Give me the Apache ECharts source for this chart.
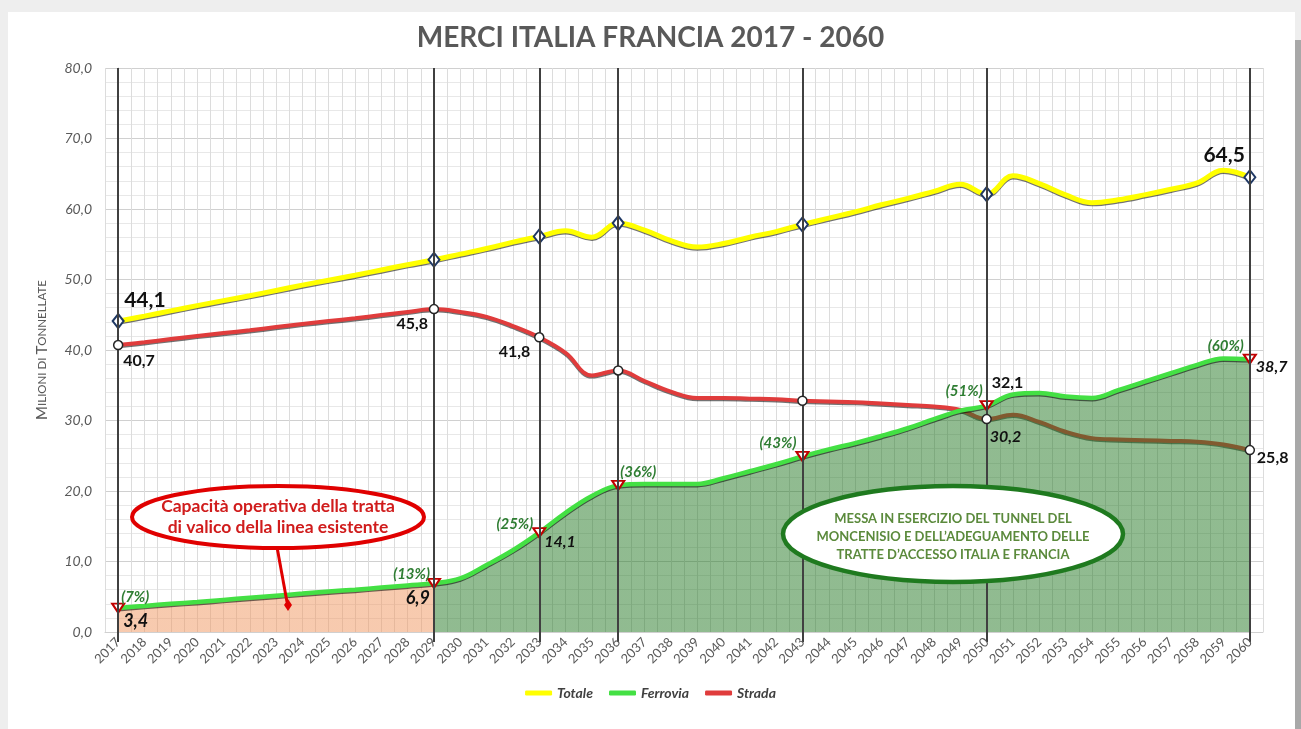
<!DOCTYPE html>
<html>
<head>
<meta charset="utf-8">
<style>
  html, body { margin: 0; padding: 0; }
  #chart { width: 1301px; height: 729px; }
</style>
<script src="https://cdn.jsdelivr.net/npm/echarts@6/dist/echarts.min.js"></script>
</head>
<body>
<div id="chart"></div>
<script>
// anni sull'asse x
const years = ['2017', '2018', '2019', '2020', '2021', '2022', '2023', '2024', '2025', '2026', '2027',
  '2028', '2029', '2030', '2031', '2032', '2033', '2034', '2035', '2036', '2037', '2038', '2039', '2040',
  '2041', '2042', '2043', '2044', '2045', '2046', '2047', '2048', '2049', '2050', '2051', '2052', '2053',
  '2054', '2055', '2056', '2057', '2058', '2059', '2060'];

// milioni di tonnellate
const totale = [44.1, 44.8, 45.55, 46.3, 47.0, 47.7, 48.45, 49.2, 49.9, 50.6, 51.35, 52.1, 52.8,
  53.6, 54.4, 55.3, 56.1, 56.9, 56.0, 58.0, 57.0, 55.5, 54.6, 55.1, 56.0, 56.8, 57.8,
  58.7, 59.6, 60.6, 61.5, 62.5, 63.5, 62.1, 64.7, 63.6, 62.0, 60.9, 61.3, 62.0, 62.8, 63.7, 65.5, 64.5];
const ferrovia = [3.4, 3.7, 4.0, 4.25, 4.55, 4.85, 5.15, 5.45, 5.75, 6.0, 6.3, 6.6, 6.9,
  7.6, 9.5, 11.6, 14.1, 16.9, 19.3, 20.8, 21.0, 21.0, 21.0, 21.8, 22.8, 23.8, 24.9,
  25.9, 26.8, 27.8, 28.9, 30.2, 31.4, 32.1, 33.7, 33.9, 33.4, 33.2, 34.3, 35.5, 36.7, 37.9, 38.8, 38.7];
const strada = [40.7, 41.1, 41.55, 42.0, 42.4, 42.8, 43.25, 43.7, 44.1, 44.5, 44.95, 45.4, 45.8,
  45.4, 44.7, 43.4, 41.8, 39.6, 36.4, 37.1, 35.6, 34.1, 33.2, 33.2, 33.1, 33.0, 32.8,
  32.7, 32.6, 32.4, 32.2, 32.0, 31.5, 30.2, 30.8, 29.8, 28.4, 27.5, 27.3, 27.2, 27.1, 27.0, 26.6, 25.8];

// anni chiave con linea verticale e quota ferroviaria
const keyYears = ['2017', '2029', '2033', '2036', '2043', '2050', '2060'];
const quote = ['(7%)', '(13%)', '(25%)', '(36%)', '(43%)', '(51%)', '(60%)'];
const yTicks = [0, 10, 20, 30, 40, 50, 60, 70, 80];

const keyIdx = keyYears.map(y => years.indexOf(y));
const fmt = v => v.toFixed(1).replace('.', ',');
const FONT = 'Lato, "Open Sans", sans-serif';

// posizione delle etichette (solo stile)
function lab(align, vAlign, dx, dy, extra) {
  return Object.assign({
    show: true, position: 'inside', align: align, verticalAlign: vAlign,
    offset: [dx, dy], fontFamily: FONT, fontWeight: 'bold', fontSize: 16, color: '#111'
  }, extra || {});
}
const it = { fontStyle: 'italic' };
const big = { fontSize: 21 };
const pctStyle = { fontStyle: 'italic', fontSize: 15, color: '#2E7D32' };

const totaleLab = { '2017': lab('left', 'bottom', 6, -10, big), '2060': lab('right', 'bottom', -5, -12, big) };
const stradaLab = {
  '2017': lab('left', 'top', 5, 8), '2029': lab('right', 'top', -6, 7), '2033': lab('right', 'top', -9, 7),
  '2050': lab('left', 'top', 3, 10, it), '2060': lab('left', 'top', 7, 0)
};
const ferroviaLab = {
  '2017': lab('left', 'top', 5, 4, { fontStyle: 'italic', fontSize: 18 }), '2029': lab('right', 'top', -4, 6, { fontStyle: 'italic', fontSize: 18 }),
  '2033': lab('left', 'top', 5, 1, it), '2050': lab('left', 'bottom', 5, -15),
  '2060': lab('left', 'top', 6, 0, it)
};
const pctLab = {
  '2017': lab('left', 'bottom', 3, -3, pctStyle), '2029': lab('right', 'bottom', -4, -2, pctStyle),
  '2033': lab('right', 'bottom', -6, -1, pctStyle), '2036': lab('left', 'bottom', 2, -6, pctStyle),
  '2043': lab('right', 'bottom', -6, -6, pctStyle), '2050': lab('right', 'bottom', -4, -7, pctStyle),
  '2060': lab('right', 'bottom', -6, -6, pctStyle)
};

function withLabels(values, labels) {
  return values.map((v, i) => labels[years[i]] ? { value: v, label: labels[years[i]] } : v);
}
function onlyKeys(values, labels) {
  return values.map((v, i) => {
    if (!keyIdx.includes(i)) return null;
    return labels && labels[years[i]] ? { value: v, label: labels[years[i]] } : v;
  });
}
const keySymbol = name => (v, p) => keyIdx.includes(p.dataIndex) ? name : 'none';
const shadow = { shadowColor: 'rgba(0,0,0,0.55)', shadowBlur: 0, shadowOffsetX: 0, shadowOffsetY: 1.2 };

const split = keyIdx[1] / (years.length - 1);
const orange = 'rgba(240,150,95,0.5)';
const green = 'rgba(35,120,35,0.5)';

const chart = echarts.init(document.getElementById('chart'));
chart.setOption({
  animation: false,
  title: {
    text: 'MERCI ITALIA FRANCIA 2017 - 2060', left: 'center', top: 19,
    textStyle: { fontFamily: FONT, fontWeight: 'bold', fontSize: 28, color: '#595959' }
  },
  legend: {
    bottom: 24, left: 'center', itemGap: 16, itemWidth: 27, itemHeight: 5,
    textStyle: { fontFamily: FONT, fontStyle: 'italic', fontWeight: 'bold', fontSize: 14, color: '#404040' },
    data: [
      { name: 'Totale', icon: 'roundRect', itemStyle: { color: '#FFFF00', borderWidth: 0 } },
      { name: 'Ferrovia', icon: 'roundRect', itemStyle: { color: '#44E044', borderWidth: 0 } },
      { name: 'Strada', icon: 'roundRect', itemStyle: { color: '#E03C3C', borderWidth: 0 } }
    ]
  },
  grid: { left: 105, right: 38, top: 68, bottom: 97 },
  xAxis: [
    {
      type: 'category', data: years, boundaryGap: true,
      axisLine: { lineStyle: { color: '#d0d0d0' } },
      axisTick: {
        show: true, alignWithLabel: true, length: 10,
        interval: i => keyIdx.includes(i),
        lineStyle: { color: '#404040', width: 2 }
      },
      axisLabel: { interval: 0, rotate: 45, margin: 8, fontFamily: FONT, fontSize: 13, color: '#595959' },
      splitLine: { show: false }
    },
    {
      // griglia verticale fine (mezza banda)
      type: 'value', min: -0.5, max: years.length - 0.5, interval: 0.5, position: 'bottom',
      axisLine: { show: false }, axisTick: { show: false }, axisLabel: { show: false },
      splitLine: { show: true, lineStyle: { color: '#dcdcdc', width: 1 } }
    }
  ],
  yAxis: {
    type: 'value', min: yTicks[0], max: yTicks[yTicks.length - 1], interval: 10,
    name: '{a|M}{b|ILIONI DI }{a|T}{b|ONNELLATE}', nameLocation: 'middle', nameRotate: 90, nameGap: 55,
    nameTextStyle: {
      color: '#595959',
      rich: {
        a: { fontFamily: FONT, fontSize: 15, color: '#595959' },
        b: { fontFamily: FONT, fontSize: 11.5, color: '#595959' }
      }
    },
    axisLine: { show: true, lineStyle: { color: '#d0d0d0' } },
    axisTick: { show: false },
    axisLabel: { margin: 13, fontFamily: FONT, fontStyle: 'italic', fontSize: 14, color: '#595959', formatter: v => fmt(v) },
    splitLine: { lineStyle: { color: '#d0d0d0' } },
    minorTick: { show: false, splitNumber: 5 },
    minorSplitLine: { show: true, lineStyle: { color: '#e8e8e8' } }
  },
  series: [
    {
      name: 'Strada', type: 'line', data: strada, smooth: 0.4, z: 2,
      symbol: 'none', color: '#E03C3C',
      lineStyle: Object.assign({ color: '#E03C3C', width: 4 }, shadow),
      markLine: {
        silent: true, symbol: ['none', 'none'], label: { show: false },
        lineStyle: { color: '#404040', width: 2, type: 'solid' },
        data: keyYears.map(y => ({ xAxis: y }))
      }
    },
    {
      name: 'Ferrovia', type: 'line', data: withLabels(ferrovia, ferroviaLab), smooth: 0.4, z: 3,
      symbol: keySymbol('triangle'), symbolRotate: 180, symbolSize: [12, 9], showAllSymbol: true,
      itemStyle: { color: '#fff', borderColor: '#C00000', borderWidth: 2 },
      lineStyle: Object.assign({ color: '#44E044', width: 4.5 }, shadow),
      label: { show: false, formatter: p => fmt(p.value) },
      areaStyle: {
        opacity: 1,
        color: new echarts.graphic.LinearGradient(0, 0, 1, 0, [
          { offset: 0, color: orange }, { offset: split, color: orange },
          { offset: split, color: green }, { offset: 1, color: green }
        ])
      }
    },
    {
      name: 'Totale', type: 'line', data: withLabels(totale, totaleLab), smooth: 0.4, z: 4,
      symbol: keySymbol('diamond'), symbolSize: [11, 14], showAllSymbol: true,
      itemStyle: { color: '#fff', borderColor: '#1F3864', borderWidth: 2 },
      lineStyle: Object.assign({ color: '#FFFF00', width: 5 }, shadow),
      label: { show: false, formatter: p => fmt(p.value) }
    },
    {
      name: 'Strada punti', type: 'line', data: onlyKeys(strada, stradaLab), z: 6,
      symbol: 'circle', symbolSize: 9, showAllSymbol: true,
      itemStyle: { color: '#fff', borderColor: '#262626', borderWidth: 1.5 },
      lineStyle: { width: 0, opacity: 0 },
      label: { show: false, formatter: p => fmt(p.value) }
    },
    {
      name: 'Quota ferrovia', type: 'line', data: onlyKeys(ferrovia, pctLab), z: 7,
      symbol: 'circle', symbolSize: 1, showAllSymbol: true,
      itemStyle: { color: 'rgba(0,0,0,0)', borderWidth: 0 },
      lineStyle: { width: 0, opacity: 0 },
      label: { show: false, formatter: p => quote[keyIdx.indexOf(p.dataIndex)] }
    }
  ],
  graphic: [
    // cornice della slide
    { type: 'rect', z: -1, silent: true, shape: { x: 0, y: 0, width: 1301, height: 729 }, style: { fill: '#eeeeee' } },
    { type: 'rect', z: -1, silent: true, shape: { x: 8, y: 12, width: 1287, height: 717 }, style: { fill: '#ffffff' } },
    { type: 'rect', z: -1, silent: true, shape: { x: 1295, y: 40, width: 6, height: 689 }, style: { fill: '#a8a8a8' } },
    // nota rossa
    {
      type: 'line', z: 50, silent: true, shape: { x1: 277, y1: 547, x2: 287, y2: 602 },
      style: { stroke: '#E00000', lineWidth: 3 }
    },
    {
      type: 'polygon', z: 50, silent: true,
      shape: { points: [[288, 599], [292, 605], [288, 611], [284, 605]] },
      style: { fill: '#E00000' }
    },
    {
      type: 'ellipse', z: 50, silent: true, shape: { cx: 278, cy: 517, rx: 146, ry: 31 },
      style: { fill: '#fff', stroke: '#E00000', lineWidth: 4 }
    },
    {
      type: 'text', z: 51, silent: true, x: 278, y: 517,
      style: {
        text: 'Capacità operativa della tratta\ndi valico della linea esistente',
        align: 'center', verticalAlign: 'middle', lineHeight: 21,
        font: 'bold 17.5px ' + FONT, fill: '#D01C1C'
      }
    },
    // nota verde
    {
      type: 'ellipse', z: 50, silent: true, shape: { cx: 953, cy: 534, rx: 170, ry: 48 },
      style: { fill: '#fff', stroke: '#1F7A1F', lineWidth: 4.5 }
    },
    {
      type: 'text', z: 51, silent: true, x: 953, y: 537,
      style: {
        text: 'MESSA IN ESERCIZIO DEL TUNNEL DEL\nMONCENISIO E DELL\u2019ADEGUAMENTO DELLE\nTRATTE D\u2019ACCESSO ITALIA E FRANCIA',
        align: 'center', verticalAlign: 'middle', lineHeight: 18,
        font: 'bold 13px ' + FONT, fill: '#5B8A3C'
      }
    }
  ]
});
</script>
</body>
</html>
